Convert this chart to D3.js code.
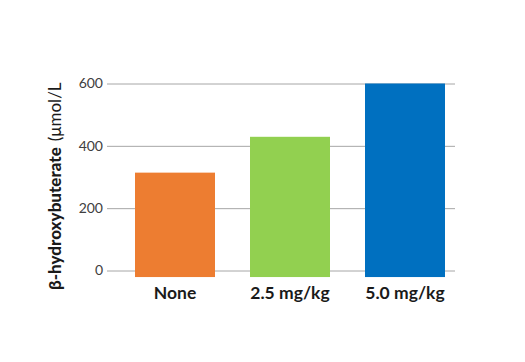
<!DOCTYPE html>
<html><head><meta charset="utf-8">
<script src="https://cdn.jsdelivr.net/npm/d3@7"></script>
<style>body{margin:0;background:#fff}svg{display:block}</style>
</head><body>
<script>
const categories = ["None", "2.5 mg/kg", "5.0 mg/kg"];
const values = [314, 429, 600];
const colors = ["#ED7D31", "#92D050", "#0070C0"];
const yTicks = [0, 200, 400, 600];

const W = 525, H = 362;
const svg = d3.select("body").append("svg").attr("width", W).attr("height", H);

const y = d3.scaleLinear().domain([0, 600]).range([270.5, 83.5]);
const x = d3.scalePoint().domain(categories).range([175, 405]);
const barW = 80;
const font = "Lato, 'Open Sans', sans-serif";

// gridlines + tick labels
const yAxis = d3.axisLeft(y).tickValues(yTicks).tickSize(-348).tickPadding(4).tickFormat(d3.format("d"));
const ga = svg.append("g").attr("transform", "translate(107,0)").call(yAxis);
ga.select(".domain").remove();
ga.selectAll(".tick line").attr("stroke", "#a6a6a6").attr("stroke-width", 1);
ga.selectAll(".tick text").attr("fill", "#404040").attr("font-size", 14).attr("font-family", font);

// bars (slightly below baseline as in the reference)
svg.selectAll("rect.bar").data(values).join("rect")
  .attr("class", "bar")
  .attr("x", (d, i) => x(categories[i]) - barW / 2)
  .attr("width", barW)
  .attr("y", d => y(d))
  .attr("height", d => y(-21) - y(d))
  .attr("fill", (d, i) => colors[i]);

// category labels
svg.selectAll("text.cat").data(categories).join("text")
  .attr("class", "cat")
  .attr("x", d => x(d))
  .attr("y", 299)
  .attr("text-anchor", "middle")
  .attr("font-family", font)
  .attr("font-weight", "bold")
  .attr("font-size", 17.5)
  .attr("fill", "#1a1a1a")
  .text(d => d);

// y-axis title
const t = svg.append("text")
  .attr("transform", "translate(61,290) rotate(-90)")
  .attr("font-family", font)
  .attr("font-size", 17)
  .attr("fill", "#1a1a1a");
t.append("tspan").attr("font-weight", "900").text("β-hydroxybuterate");
t.append("tspan").attr("dx", 6).text("(μmol/L");
</script>
</body></html>
